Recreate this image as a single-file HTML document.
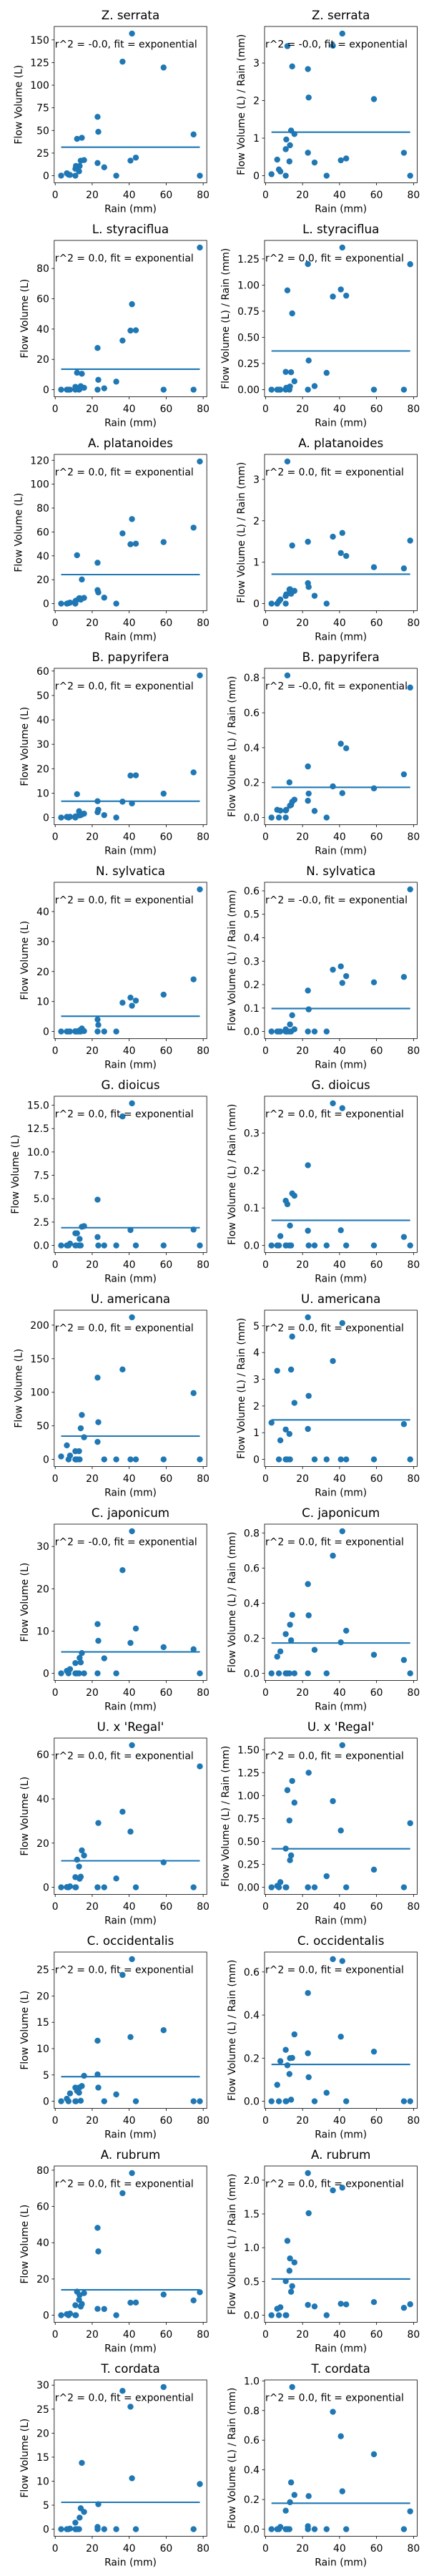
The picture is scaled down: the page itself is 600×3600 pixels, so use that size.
<!DOCTYPE html>
<html><head><meta charset="utf-8"><title>Flow volume vs rain</title>
<style>
html,body{margin:0;padding:0;background:#fff;}
svg{display:block;font-family:"DejaVu Sans","Liberation Sans",sans-serif;}
</style></head>
<body>
<svg id="fig" width="600" height="3600" viewBox="0 0 600 3600" xmlns="http://www.w3.org/2000/svg"></svg>
<script>
// ---- data ----
const rain = [3.2,6.3,7.2,8.0,10.9,10.9,11.2,11.8,12.9,13.2,13.8,14.4,15.6,22.9,22.9,23.3,26.5,33.0,36.4,40.7,41.5,43.6,58.6,74.8,78.2];
const speciesNames = ["Z. serrata","L. styraciflua","A. platanoides","B. papyrifera","N. sylvatica","G. dioicus","U. americana","C. japonicum","U. x 'Regal'","C. occidentalis","A. rubrum","T. cordata"];
const volZserrata = [0.13,2.7,1.2,0.9,0,7.7,10.8,40.7,4.9,10.7,16.6,41.9,17.3,65,14,48.5,9.3,0,126,16.7,157,20,119.5,45.6,0];
const volLstyraciflua = [0,0,0,0,0,1.85,0.2,11.2,0,0.4,2.3,10.5,1.25,27.5,0,6.5,0.9,5.3,32.4,39,56.4,39.2,0,0,93.8];
const volAplatanoides = [0,0,0.4,0.8,0,2.0,2.5,40.5,4.4,4.6,3.3,20.2,4.8,34.2,11.3,9.4,5.0,0,58.8,49.7,70.8,50.2,51.5,63.6,119];
const volBpapyrifera = [0,0.28,0,0.32,0,0.44,0.5,9.6,2.6,0.9,1.0,1.3,1.6,6.7,2.2,3.2,1.0,0,6.5,17.2,5.8,17.3,9.8,18.5,58.2];
const volNsylvatica = [0,0,0,0,0.1,0,0,0,0,0.4,0,1.0,0.15,4.0,0,2.2,0,0,9.6,11.3,8.6,10.3,12.3,17.4,47.4];
const volGdioicus = [0,0,0,0.2,0,1.3,0,1.3,0,0.7,0,2.0,2.07,4.9,0.9,0,0,0,13.8,1.65,15.2,0,0,1.7,0];
const volUamericana = [4.4,20.9,0,5.7,0,12.2,0,0,12.3,0,46.4,66.2,33,121.8,26.1,55.4,0,0,134,0,211.7,0,0,98.8,0];
const volCjaponicum = [0,0.6,0,1.0,0,2.44,0,0,0,3.66,2.6,4.8,0,11.65,0,7.7,3.55,0,24.4,7.2,33.6,10.6,6.2,5.7,0];
const volUregal = [0,0.1,0,0.45,0,4.6,0,12.5,9.4,3.9,4.8,16.7,14.4,0,0,29.1,0,4.0,34.2,25.2,64.3,0,11.3,0,54.7];
const volCoccidentalis = [0,0.48,0,1.49,0,2.6,0,1.97,1.63,2.64,0.1,2.9,4.84,11.5,5.1,2.6,0,1.3,24,12.2,27,0,13.5,0,0];
const volArubrum = [0,0.6,0,0.94,0,5.5,0,13,8.5,11.1,4.8,6.2,12.2,48.2,3.5,35.2,3.44,0,67.3,6.9,78.4,7,11.4,8.2,12.7];
const volTcordata = [0,0,0,0.12,0,1.36,0,0,0,2.4,4.35,13.8,3.6,0.46,0,5.2,0,0,28.8,25.5,10.6,0,29.6,0,9.4];
const volumes = [volZserrata,volLstyraciflua,volAplatanoides,volBpapyrifera,volNsylvatica,volGdioicus,volUamericana,volCjaponicum,volUregal,volCoccidentalis,volArubrum,volTcordata];
const fitVolume = [31.5,13.5,24.3,6.7,5.1,1.9,34.7,5.07,12.0,4.67,14.0,5.6];
const fitRatio = [1.16,0.37,0.71,0.173,0.098,0.067,1.48,0.173,0.42,0.171,0.537,0.175];
const r2Volume = ["-0.0","0.0","0.0","0.0","0.0","0.0","0.0","-0.0","0.0","0.0","0.0","0.0"];
const r2Ratio = ["-0.0","0.0","0.0","-0.0","-0.0","0.0","0.0","0.0","0.0","0.0","0.0","0.0"];
const tickStepVolume = [25,20,20,10,10,2.5,50,10,20,5,20,5];
const tickDecVolume = [0,0,0,0,0,1,0,0,0,0,0,0];
const tickStepRatio = [1,0.25,1,0.2,0.1,0.1,1,0.2,0.25,0.2,0.5,0.2];
const tickDecRatio = [0,2,0,1,1,1,0,1,2,1,1,1];
const xTicks = [0,20,40,60,80];

// ---- drawing ----
const NS = "http://www.w3.org/2000/svg";
const svg = document.getElementById("fig");
const BLUE = "#1f77b4";
function mk(tag, attrs, parent){
  const e = document.createElementNS(NS, tag);
  for (const k in attrs) e.setAttribute(k, attrs[k]);
  (parent||svg).appendChild(e);
  return e;
}
const xMin = Math.min(...rain), xMax = Math.max(...rain);
const xLo = xMin - 0.05*(xMax-xMin), xHi = xMax + 0.05*(xMax-xMin);
const PW = 213.4, PH = 218.5;
const colLeft = [75.8, 370.0];

function panel(row, col, ys, fitY, r2, step, dec, title, ylabel){
  const L = colLeft[col], T = 37 + row*299, B = T + PH, R = L + PW;
  const g = mk("g", {});
  
  
  const yMaxD = Math.max(...ys), yMinD = Math.min(...ys);
  const yLo = yMinD - 0.05*(yMaxD-yMinD), yHi = yMaxD + 0.05*(yMaxD-yMinD);
  const sx = v => L + (v - xLo)/(xHi - xLo)*PW;
  const sy = v => B - (v - yLo)/(yHi - yLo)*PH;
  // title
  const t = mk("text", {x:(L+R)/2, y:T-10, "text-anchor":"middle", "font-size":"16.7", fill:"#000"}, g);
  t.textContent = title;
  
  
  // points
  for (let i=0;i<ys.length;i++){
    const c = mk("circle", {cx:sx(rain[i]), cy:sy(ys[i]), r:4.2, fill:BLUE}, g);
    
    
  }
  // fit line
  const ln = mk("line", {x1:sx(xMin), x2:sx(xMax), y1:sy(fitY), y2:sy(fitY), stroke:BLUE, "stroke-width":2.1}, g);
  
  
  // annotation
  const an = mk("text", {x:L+1, y:T+29.5, "font-size":"13.9", fill:"#000"}, g);
  an.textContent = "r^2 = " + r2 + ", fit = exponential";
  
  
  // frame
  const fr = mk("rect", {x:L, y:T, width:PW, height:PH, fill:"none", stroke:"#000", "stroke-width":0.8}, g);
  
  
  // x ticks
  for (const v of xTicks){
    const x = sx(v);
    const tk = mk("line", {x1:x, x2:x, y1:B, y2:B+3.5, stroke:"#000", "stroke-width":0.8}, g);
    
    
    const tl = mk("text", {x:x, y:B+21.5, "text-anchor":"middle", "font-size":"13.9", fill:"#000"}, g);
    tl.textContent = String(v);
    
    
  }
  const xl = mk("text", {x:(L+R)/2, y:B+41, "text-anchor":"middle", "font-size":"13.9", fill:"#000"}, g);
  xl.textContent = "Rain (mm)";
  
  
  // y ticks
  let maxW = 0;
  for (let k=0; k*step <= yHi + 1e-9; k++){
    const v = k*step;
    if (v < yLo) continue;
    const y = sy(v);
    const tk = mk("line", {x1:L-3.5, x2:L, y1:y, y2:y, stroke:"#000", "stroke-width":0.8}, g);
    
    
    const tl = mk("text", {x:L-7, y:y+5, "text-anchor":"end", "font-size":"13.9", fill:"#000"}, g);
    tl.textContent = v.toFixed(dec);
    
    
    let w = 0;
    try { w = tl.getComputedTextLength(); } catch(e){ w = 8.8*tl.textContent.length; }
    if (!w) w = 8.8*tl.textContent.length;
    maxW = Math.max(maxW, w);
  }
  const lx = L - 7 - maxW - 12;
  const cy = (T+B)/2;
  const yl = mk("text", {x:lx, y:cy, "text-anchor":"middle", "font-size":"13.9", fill:"#000", transform:"rotate(-90 "+lx+" "+cy+")"}, g);
  yl.textContent = ylabel;
  
  
}

for (let r=0; r<speciesNames.length; r++){
  const vol = volumes[r];
  const ratio = vol.map((v,i)=> v / rain[i]);
  panel(r, 0, vol, fitVolume[r], r2Volume[r], tickStepVolume[r], tickDecVolume[r], speciesNames[r], "Flow Volume (L)");
  panel(r, 1, ratio, fitRatio[r], r2Ratio[r], tickStepRatio[r], tickDecRatio[r], speciesNames[r], "Flow Volume (L) / Rain (mm)");
}
</script>
</body></html>
